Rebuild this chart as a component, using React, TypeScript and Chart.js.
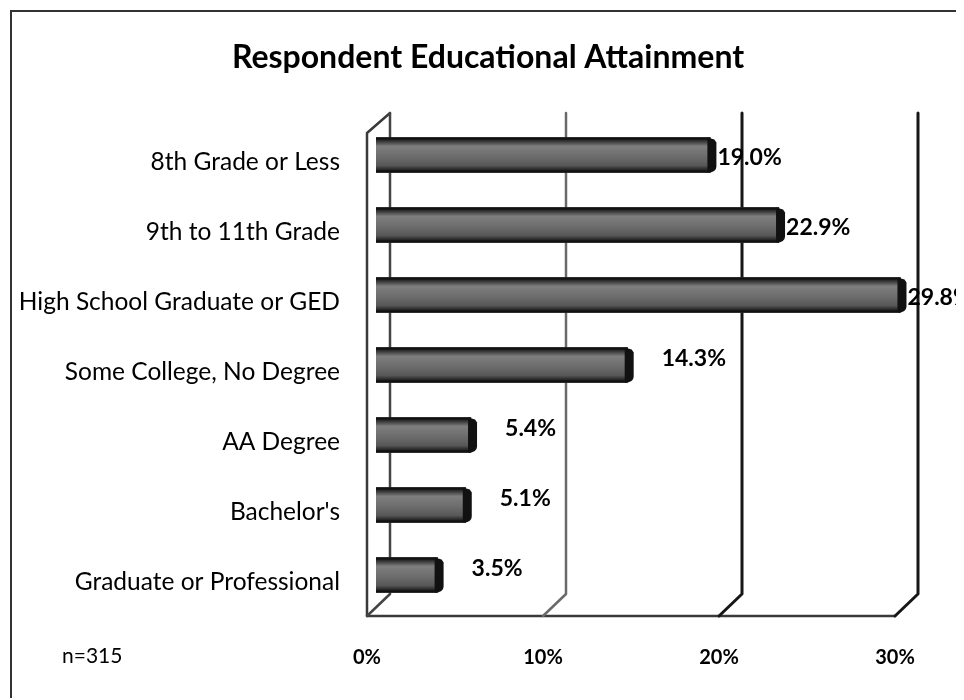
import React, { useEffect, useRef } from "react";
import { Chart, registerables } from "chart.js";

Chart.register(...registerables);

const categories = [
  "8th Grade or Less",
  "9th to 11th Grade",
  "High School Graduate or GED",
  "Some College, No Degree",
  "AA Degree",
  "Bachelor's",
  "Graduate or Professional",
];
const percentages = [19.0, 22.9, 29.8, 14.3, 5.4, 5.1, 3.5];
const tickValues = [0, 10, 20, 30];
const titleText = "Respondent Educational Attainment";
const sampleNote = "n=315";

const FONT = "Lato, 'Open Sans', sans-serif";
const NEAR_LABEL_MIN = 19; // bars at least this long get the label hugging the bar end

const frame3d = {
  id: "frame3d",
  beforeDatasetsDraw(chart: any) {
    const { ctx, chartArea: a, scales } = chart;
    const x = scales.x;
    const BX = 14, FX = -9;
    const BT = a.top - 7, FT = a.top + 13;
    const BB = a.bottom - 16, FB = a.bottom + 6;
    ctx.save();
    ctx.lineCap = "round";
    ctx.lineJoin = "round";
    const x0 = x.getPixelForValue(tickValues[0]);
    const xN = x.getPixelForValue(tickValues[tickValues.length - 1]);
    ctx.strokeStyle = "#3a3a3a";
    ctx.lineWidth = 2.5;
    ctx.beginPath();
    ctx.moveTo(x0 + BX, BT);
    ctx.lineTo(x0 + FX, FT);
    ctx.lineTo(x0 + FX, FB);
    ctx.stroke();
    ctx.beginPath();
    ctx.moveTo(x0 + FX, FB);
    ctx.lineTo(xN + FX, FB);
    ctx.stroke();
    tickValues.forEach((v, i) => {
      const px = x.getPixelForValue(v);
      ctx.strokeStyle = i === 1 ? "#6a6a6a" : i === 0 ? "#444" : "#161616";
      ctx.lineWidth = i >= 2 ? 3 : 2.5;
      ctx.beginPath();
      ctx.moveTo(px + BX, BT);
      ctx.lineTo(px + BX, BB);
      ctx.lineTo(px + FX, FB);
      ctx.stroke();
    });
    ctx.restore();
  },
};

const bars3d = {
  id: "bars3d",
  afterDatasetsDraw(chart: any) {
    const { ctx } = chart;
    const meta = chart.getDatasetMeta(0);
    const CAP = 6;
    ctx.save();
    meta.data.forEach((el: any, i: number) => {
      const { x, y, base, height } = el.getProps(["x", "y", "base", "height"], true);
      const top = y - height / 2;
      const bottom = y + height / 2;
      const g = ctx.createLinearGradient(0, top, 0, bottom);
      g.addColorStop(0, "#0a0a0a");
      g.addColorStop(0.1, "#333");
      g.addColorStop(0.25, "#7e7e7e");
      g.addColorStop(0.55, "#6c6c6c");
      g.addColorStop(0.8, "#575757");
      g.addColorStop(0.92, "#262626");
      g.addColorStop(1, "#0a0a0a");
      ctx.fillStyle = g;
      ctx.fillRect(base, top, x - base, height);
      ctx.fillStyle = "#111";
      ctx.beginPath();
      ctx.moveTo(x - 3, top);
      ctx.lineTo(x + CAP - 2, top + 2);
      ctx.lineTo(x + CAP, top + 5);
      ctx.lineTo(x + CAP, bottom - 6);
      ctx.quadraticCurveTo(x + CAP, bottom, x - 3, bottom);
      ctx.closePath();
      ctx.fill();
      ctx.strokeStyle = "#111";
      ctx.lineWidth = 2;
      ctx.beginPath();
      ctx.moveTo(base, top + 1);
      ctx.lineTo(x, top + 1);
      ctx.moveTo(base, bottom - 1);
      ctx.lineTo(x, bottom - 1);
      ctx.stroke();
      const v = percentages[i];
      const near = v >= NEAR_LABEL_MIN;
      ctx.fillStyle = "#000";
      ctx.font = `bold 23px ${FONT}`;
      ctx.textAlign = "left";
      ctx.textBaseline = "middle";
      ctx.fillText(`${v.toFixed(1)}%`, x + CAP + (near ? 1 : 28), y + (near ? 3 : -6));
    });
    ctx.restore();
  },
};

export default function App() {
  const ref = useRef<HTMLCanvasElement>(null);
  useEffect(() => {
    document.documentElement.style.overflow = "hidden";
    document.body.style.overflow = "hidden";
    const chart = new Chart(ref.current!, {
      type: "bar",
      data: {
        labels: categories,
        datasets: [
          {
            data: percentages,
            backgroundColor: "#666",
            borderWidth: 0,
            barThickness: 35,
          },
        ],
      },
      plugins: [frame3d, bars3d],
      options: {
        indexAxis: "y",
        animation: false,
        responsive: true,
        maintainAspectRatio: false,
        layout: { padding: { left: 0, right: 0, top: 0, bottom: 22 } },
        plugins: {
          legend: { display: false },
          tooltip: { enabled: false },
          title: {
            display: true,
            text: titleText,
            color: "#000",
            font: { family: FONT, size: 32, weight: "bold" },
            padding: { top: 26, bottom: 43.6 },
          },
        },
        scales: {
          x: {
            min: 0,
            max: 30,
            afterBuildTicks: (s: any) => {
              s.ticks = tickValues.map((v) => ({ value: v }));
            },
            afterFit: (s: any) => {
              s.height = 60;
            },
            ticks: {
              callback: (v: any) => `${v}%`,
              color: "#000",
              font: { family: FONT, size: 20, weight: "bold" },
              padding: 36,
              labelOffset: -9,
              maxRotation: 0,
            },
            grid: { display: false, drawTicks: false },
            border: { display: false },
          },
          y: {
            afterFit: (s: any) => {
              s.width = 364;
            },
            ticks: {
              color: "#000",
              font: { family: FONT, size: 24.5 },
              padding: 36,
              labelOffset: 7,
            },
            grid: { display: false, drawTicks: false },
            border: { display: false },
          },
          yRight: {
            axis: "y",
            type: "category",
            position: "right",
            afterFit: (s: any) => {
              s.width = 60;
            },
            ticks: { display: false },
            grid: { display: false, drawTicks: false },
            border: { display: false },
          },
        },
      },
    } as any);
    return () => chart.destroy();
  }, []);

  return (
    <div
      style={{
        position: "relative",
        left: 2,
        top: 2,
        width: 954,
        height: 690,
        borderTop: "2px solid #333",
        borderLeft: "2px solid #333",
        boxSizing: "border-box",
        background: "#fff",
      }}
    >
      <div style={{ position: "absolute", left: 0, top: 0, width: 952, height: 680 }}>
        <canvas ref={ref} />
      </div>
      <div
        style={{
          position: "absolute",
          left: 50,
          top: 631,
          fontFamily: FONT,
          fontSize: 21,
          lineHeight: "24px",
          color: "#000",
        }}
      >
        {sampleNote}
      </div>
    </div>
  );
}
